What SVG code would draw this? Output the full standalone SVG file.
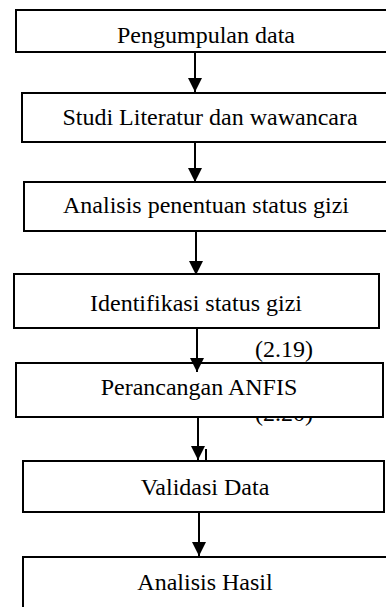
<svg xmlns="http://www.w3.org/2000/svg" width="386" height="607" viewBox="0 0 386 607">
<defs>
<style>
.box{fill:#fff;stroke:#000;stroke-width:2}
.t{font-family:"Liberation Serif","Times New Roman",serif;font-size:24px;fill:#000;text-anchor:middle}
.lbl{font-family:"Liberation Serif","Times New Roman",serif;font-size:24px;fill:#000}
.ln{stroke:#000;stroke-width:2;fill:none}
</style>
<marker id="ah" markerWidth="14" markerHeight="14" refX="14" refY="7" orient="auto" markerUnits="userSpaceOnUse">
<path d="M0,0 L14,7 L0,14 Z" fill="#000"/>
</marker>
</defs>
<rect width="386" height="607" fill="#fff"/>
<text class="lbl" x="255" y="421">(2.20)</text>
<g id="n1"><rect class="box" x="16" y="10" width="380" height="42"/><text class="t" x="206" y="43">Pengumpulan data</text></g>
<g id="n2"><rect class="box" x="22" y="93" width="380" height="49"/><text class="t" x="210" y="125">Studi Literatur dan wawancara</text></g>
<g id="n3"><rect class="box" x="24" y="182" width="380" height="49"/><text class="t" x="206" y="213">Analisis penentuan status gizi</text></g>
<g id="n4"><rect class="box" x="14" y="274" width="365" height="54"/><text class="t" x="196" y="311">Identifikasi status gizi</text></g>
<text class="lbl" x="255" y="357">(2.19)</text>
<g id="n5"><rect class="box" x="16" y="363" width="367" height="54"/><text class="t" x="199" y="395">Perancangan ANFIS</text></g>
<g id="n6"><rect class="box" x="23" y="461" width="361" height="51"/><text class="t" x="205" y="495">Validasi Data</text></g>
<g id="n7"><rect class="box" x="23" y="557" width="380" height="80"/><text class="t" x="205" y="590">Analisis Hasil</text></g>
<g id="connectors">
<line class="ln" x1="195" y1="52" x2="195" y2="92" marker-end="url(#ah)"/>
<line class="ln" x1="195" y1="142" x2="195" y2="182" marker-end="url(#ah)"/>
<line class="ln" x1="196" y1="231" x2="196" y2="275" marker-end="url(#ah)"/>
<line class="ln" x1="197" y1="328" x2="197" y2="372" marker-end="url(#ah)"/>
<line class="ln" x1="198" y1="417" x2="198" y2="460" marker-end="url(#ah)"/>
<line class="ln" x1="206" y1="449" x2="206" y2="460" stroke-width="1.5"/>
<line class="ln" x1="199" y1="513" x2="199" y2="556" marker-end="url(#ah)"/>
</g>
</svg>
